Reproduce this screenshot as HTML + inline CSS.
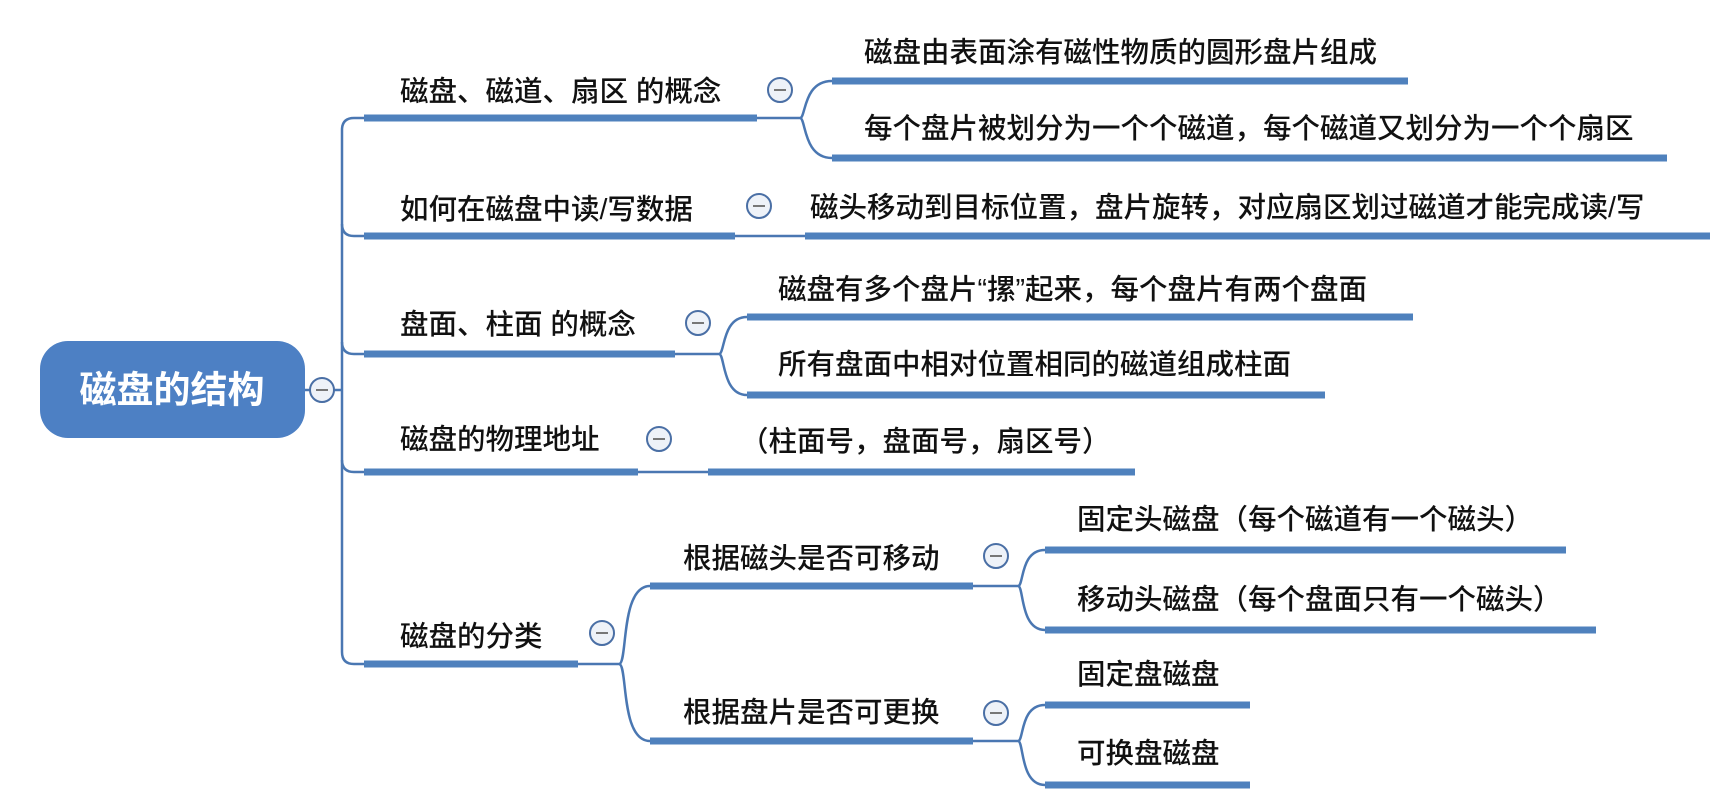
<!DOCTYPE html>
<html><head><meta charset="utf-8"><style>
html,body{margin:0;padding:0;background:#fff;}
svg{display:block;}
text{font-family:"Liberation Sans","Noto Sans CJK SC",sans-serif;fill:#111;font-size:28.5px;font-weight:500;dominant-baseline:central;}
.u{stroke:#4f81bd;stroke-width:7;fill:none;}
.t{stroke:#4a77b2;stroke-width:2.5;fill:none;}
.c{fill:#eef2f8;stroke:#4a6fa5;stroke-width:2;}
.m{stroke:#777;stroke-width:2;}
</style></head><body>
<svg width="1725" height="792" viewBox="0 0 1725 792" xmlns="http://www.w3.org/2000/svg">
<rect x="40" y="341" width="265" height="97" rx="28" fill="#4d80c4"/>
<text x="172" y="390" text-anchor="middle" style="fill:#fff;font-size:37px;font-weight:bold">磁盘的结构</text>
<line class="t" x1="305" y1="390" x2="342" y2="390"/>
<path class="t" d="M342 130 L342 652"/>
<path class="t" d="M342 130 Q342 118 354 118 L364 118"/>
<path class="t" d="M342 224 Q342 236 354 236 L364 236"/>
<path class="t" d="M342 342 Q342 354 354 354 L364 354"/>
<path class="t" d="M342 460 Q342 472 354 472 L364 472"/>
<path class="t" d="M342 652 Q342 664 354 664 L364 664"/>
<g><circle class="c" cx="322" cy="390" r="12"/><line class="m" x1="316" y1="390" x2="328" y2="390"/></g>

<line class="u" x1="364" y1="118" x2="757" y2="118"/>
<text x="400" y="92">磁盘、磁道、扇区 的概念</text>
<line class="u" x1="364" y1="236" x2="735" y2="236"/>
<text x="400" y="210">如何在磁盘中读/写数据</text>
<line class="u" x1="364" y1="354" x2="675" y2="354"/>
<text x="400" y="325">盘面、柱面 的概念</text>
<line class="u" x1="364" y1="472" x2="638" y2="472"/>
<text x="400" y="440">磁盘的物理地址</text>
<line class="u" x1="364" y1="664" x2="578" y2="664"/>
<text x="400" y="637">磁盘的分类</text>

<g><circle class="c" cx="780" cy="90" r="12"/><line class="m" x1="774" y1="90" x2="786" y2="90"/></g>
<g><circle class="c" cx="759" cy="206" r="12"/><line class="m" x1="753" y1="206" x2="765" y2="206"/></g>
<g><circle class="c" cx="698" cy="323" r="12"/><line class="m" x1="692" y1="323" x2="704" y2="323"/></g>
<g><circle class="c" cx="659" cy="439" r="12"/><line class="m" x1="653" y1="439" x2="665" y2="439"/></g>
<g><circle class="c" cx="602" cy="633" r="12"/><line class="m" x1="596" y1="633" x2="608" y2="633"/></g>

<path class="t" d="M757 118 L800 118"/>
<path class="t" d="M800 118 C806 118 803 81 832 81"/>
<path class="t" d="M800 118 C806 118 803 158 832 158"/>
<line class="u" x1="832" y1="81" x2="1408" y2="81"/>
<line class="u" x1="832" y1="158" x2="1667" y2="158"/>
<text x="864" y="53">磁盘由表面涂有磁性物质的圆形盘片组成</text>
<text x="864" y="129">每个盘片被划分为一个个磁道，每个磁道又划分为一个个扇区</text>

<path class="t" d="M735 236 L805 236"/>
<line class="u" x1="805" y1="236" x2="1710" y2="236"/>
<text x="810" y="208">磁头移动到目标位置，盘片旋转，对应扇区划过磁道才能完成读/写</text>

<path class="t" d="M675 354 L719 354"/>
<path class="t" d="M719 354 C725 354 722 317 747 317"/>
<path class="t" d="M719 354 C725 354 722 395 747 395"/>
<line class="u" x1="747" y1="317" x2="1413" y2="317"/>
<line class="u" x1="747" y1="395" x2="1325" y2="395"/>
<text x="778" y="290">磁盘有多个盘片“摞”起来，每个盘片有两个盘面</text>
<text x="778" y="365">所有盘面中相对位置相同的磁道组成柱面</text>

<path class="t" d="M638 472 L708 472"/>
<line class="u" x1="708" y1="472" x2="1135" y2="472"/>
<text x="740" y="442">（柱面号，盘面号，扇区号）</text>

<path class="t" d="M578 664 L619 664"/>
<path class="t" d="M619 664 C628 664 620 586 650 586"/>
<path class="t" d="M619 664 C628 664 620 741 650 741"/>
<line class="u" x1="650" y1="586" x2="973" y2="586"/>
<line class="u" x1="650" y1="741" x2="973" y2="741"/>
<text x="683" y="559">根据磁头是否可移动</text>
<text x="683" y="713">根据盘片是否可更换</text>
<g><circle class="c" cx="996" cy="556" r="12"/><line class="m" x1="990" y1="556" x2="1002" y2="556"/></g>
<g><circle class="c" cx="996" cy="713" r="12"/><line class="m" x1="990" y1="713" x2="1002" y2="713"/></g>

<path class="t" d="M973 586 L1018 586"/>
<path class="t" d="M1018 586 C1024 586 1020 550 1045 550"/>
<path class="t" d="M1018 586 C1024 586 1020 630 1045 630"/>
<line class="u" x1="1045" y1="550" x2="1566" y2="550"/>
<line class="u" x1="1045" y1="630" x2="1596" y2="630"/>
<text x="1077" y="520">固定头磁盘（每个磁道有一个磁头）</text>
<text x="1077" y="600">移动头磁盘（每个盘面只有一个磁头）</text>

<path class="t" d="M973 741 L1018 741"/>
<path class="t" d="M1018 741 C1024 741 1020 705 1045 705"/>
<path class="t" d="M1018 741 C1024 741 1020 785 1045 785"/>
<line class="u" x1="1045" y1="705" x2="1250" y2="705"/>
<line class="u" x1="1045" y1="785" x2="1250" y2="785"/>
<text x="1077" y="675">固定盘磁盘</text>
<text x="1077" y="754">可换盘磁盘</text>
</svg>
</body></html>
